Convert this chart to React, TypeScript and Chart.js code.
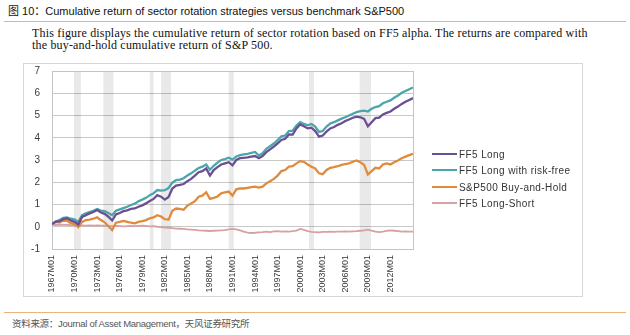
import React, { useEffect, useRef } from "react";
import { Chart, registerables } from "chart.js";

Chart.register(...registerables);

const periods = [
  "1967M01","1967M07","1968M01","1968M07","1969M01","1969M07","1970M01","1970M07",
  "1971M01","1971M07","1972M01","1972M07","1973M01","1973M07","1974M01","1974M07",
  "1975M01","1975M07","1976M01","1976M07","1977M01","1977M07","1978M01","1978M07",
  "1979M01","1979M07","1980M01","1980M07","1981M01","1981M07","1982M01","1982M07",
  "1983M01","1983M07","1984M01","1984M07","1985M01","1985M07","1986M01","1986M07",
  "1987M01","1987M07","1988M01","1988M07","1989M01","1989M07","1990M01","1990M07",
  "1991M01","1991M07","1992M01","1992M07","1993M01","1993M07","1994M01","1994M07",
  "1995M01","1995M07","1996M01","1996M07","1997M01","1997M07","1998M01","1998M07",
  "1999M01","1999M07","2000M01","2000M07","2001M01","2001M07","2002M01","2002M07",
  "2003M01","2003M07","2004M01","2004M07","2005M01","2005M07","2006M01","2006M07",
  "2007M01","2007M07","2008M01","2008M07","2009M01","2009M07","2010M01","2010M07",
  "2011M01","2011M07","2012M01","2012M07","2013M01","2013M07","2014M01","2014M07",
  "2015M01",
];

const ff5Long = [
  0.12,0.22,0.25,0.34,0.38,0.28,0.22,0.10,
  0.44,0.52,0.60,0.66,0.75,0.64,0.58,0.45,
  0.28,0.55,0.62,0.70,0.74,0.80,0.82,0.90,
  0.96,1.05,1.16,1.25,1.42,1.35,1.22,1.34,
  1.72,1.85,1.88,1.92,2.05,2.15,2.30,2.45,
  2.50,2.62,2.30,2.55,2.68,2.80,2.85,2.90,
  2.76,3.00,3.08,3.10,3.12,3.15,3.18,3.08,
  3.18,3.35,3.48,3.60,3.75,3.90,3.95,4.15,
  4.14,4.42,4.60,4.52,4.42,4.45,4.30,4.05,
  4.10,4.28,4.42,4.48,4.58,4.65,4.75,4.82,
  4.90,4.95,4.92,4.85,4.52,4.70,4.88,4.90,
  5.05,5.12,5.18,5.30,5.40,5.52,5.62,5.70,
  5.78,
];

const ff5LongRiskFree = [
  0.12,0.25,0.30,0.40,0.42,0.36,0.33,0.22,
  0.52,0.60,0.66,0.72,0.80,0.73,0.70,0.62,
  0.52,0.72,0.78,0.84,0.90,0.98,1.04,1.15,
  1.22,1.30,1.42,1.50,1.65,1.62,1.64,1.74,
  1.98,2.10,2.12,2.18,2.30,2.40,2.52,2.64,
  2.70,2.80,2.56,2.74,2.88,3.00,3.04,3.10,
  3.02,3.16,3.22,3.25,3.28,3.32,3.36,3.20,
  3.30,3.50,3.62,3.74,3.90,4.06,4.10,4.30,
  4.32,4.55,4.70,4.62,4.56,4.62,4.50,4.26,
  4.30,4.50,4.64,4.70,4.78,4.86,4.92,5.00,
  5.08,5.15,5.20,5.22,5.18,5.30,5.38,5.42,
  5.55,5.62,5.68,5.80,5.90,6.02,6.10,6.18,
  6.26,
];

const sp500BuyHold = [
  0.12,0.22,0.20,0.28,0.27,0.16,0.12,-0.02,
  0.22,0.30,0.32,0.36,0.42,0.30,0.20,0.02,
  -0.15,0.18,0.22,0.26,0.22,0.18,0.15,0.22,
  0.25,0.30,0.38,0.42,0.52,0.46,0.34,0.32,
  0.72,0.82,0.80,0.76,0.95,1.05,1.15,1.35,
  1.40,1.55,1.25,1.30,1.36,1.50,1.55,1.58,
  1.40,1.68,1.72,1.72,1.75,1.78,1.80,1.76,
  1.80,1.95,2.05,2.15,2.30,2.50,2.55,2.70,
  2.72,2.85,2.95,2.92,2.80,2.70,2.62,2.40,
  2.36,2.55,2.65,2.68,2.72,2.78,2.82,2.85,
  2.92,2.98,2.90,2.78,2.35,2.50,2.65,2.62,
  2.80,2.85,2.80,2.90,2.98,3.08,3.15,3.22,
  3.28,
];

const ff5LongShort = [
  0.10,0.08,0.10,0.08,0.09,0.07,0.06,0.04,
  0.06,0.05,0.06,0.05,0.06,0.05,0.05,0.04,
  0.03,0.04,0.03,0.02,0.03,0.04,0.03,0.04,
  0.05,0.04,0.02,0.03,0.00,-0.02,-0.04,-0.05,
  -0.06,-0.08,-0.09,-0.10,-0.12,-0.13,-0.14,-0.16,
  -0.17,-0.18,-0.19,-0.18,-0.17,-0.16,-0.15,-0.12,
  -0.10,-0.12,-0.16,-0.22,-0.26,-0.28,-0.27,-0.25,
  -0.24,-0.22,-0.24,-0.21,-0.20,-0.22,-0.21,-0.22,
  -0.20,-0.17,-0.10,-0.14,-0.20,-0.23,-0.24,-0.25,
  -0.23,-0.23,-0.22,-0.23,-0.22,-0.22,-0.21,-0.22,
  -0.21,-0.20,-0.18,-0.16,-0.13,-0.17,-0.22,-0.24,
  -0.22,-0.19,-0.16,-0.18,-0.20,-0.22,-0.21,-0.22,
  -0.22,
];

const recessionStarts = ["1969M12","1973M11","1980M01","1981M07","1990M07","2001M03","2007M12"];
const recessionEnds = ["1970M11","1975M03","1980M07","1982M11","1991M03","2001M11","2009M06"];

const tickYears = [1967,1970,1973,1976,1979,1982,1985,1988,1991,1994,1997,2000,2003,2006,2009,2012];
const yTicks = [-1,0,1,2,3,4,5,6,7];

const seriesNames = ["FF5 Long","FF5 Long with risk-free","S&P500 Buy-and-Hold","FF5 Long-Short"];
const seriesColors = ["#6a4f92","#4ba5aa","#e08a3c","#d7a0a3"];

const toYear = (p: string) => parseInt(p.slice(0, 4), 10) + (parseInt(p.slice(5), 10) - 1) / 12;

const bandsPlugin = {
  id: "bands",
  beforeDatasetsDraw(chart: any) {
    const { ctx, chartArea, scales } = chart;
    const x = scales.x;
    ctx.save();
    ctx.fillStyle = "rgba(0,0,0,0.085)";
    for (let i = 0; i < recessionStarts.length; i++) {
      const x0 = x.getPixelForValue(toYear(recessionStarts[i]));
      const x1 = x.getPixelForValue(toYear(recessionEnds[i]));
      ctx.fillRect(x0, chartArea.top, x1 - x0, chartArea.bottom - chartArea.top);
    }
    ctx.strokeStyle = "#c4c4c4";
    ctx.lineWidth = 1;
    ctx.strokeRect(
      Math.round(chartArea.left) + 0.5,
      Math.round(chartArea.top) + 0.5,
      Math.round(chartArea.right - chartArea.left),
      Math.round(chartArea.bottom - chartArea.top)
    );
    ctx.restore();
  },
};

function ChartBox() {
  const ref = useRef<HTMLCanvasElement | null>(null);
  useEffect(() => {
    if (!ref.current) return;
    const xs = periods.map(toYear);
    const seriesData = [ff5Long, ff5LongRiskFree, sp500BuyHold, ff5LongShort];
    const chart = new Chart(ref.current, {
      type: "line",
      data: {
        datasets: seriesData.map((arr, i) => ({
          label: seriesNames[i],
          data: arr.map((v, j) => ({ x: xs[j], y: v })),
          borderColor: seriesColors[i],
          backgroundColor: seriesColors[i],
          borderWidth: i === 3 ? 1.8 : 2.3,
          pointRadius: 0,
          tension: 0,
          fill: false,
        })),
      },
      options: {
        animation: false,
        responsive: false,
        maintainAspectRatio: false,
        layout: { padding: { top: 7, right: 169, left: 0, bottom: 0 } },
        plugins: { legend: { display: false }, tooltip: { enabled: false } },
        scales: {
          x: {
            type: "linear",
            min: 1967,
            max: 2015,
            afterBuildTicks: (axis: any) => {
              axis.ticks = tickYears.map((v) => ({ value: v }));
            },
            afterFit: (axis: any) => {
              axis.height = 47;
            },
            grid: { display: false, drawTicks: false },
            border: { display: false },
            ticks: {
              autoSkip: false,
              minRotation: 90,
              maxRotation: 90,
              padding: 6,
              color: "#3a3a3a",
              font: { family: "Liberation Sans", size: 9 },
              callback: (v: any) => `${v}M01`,
            },
          },
          y: {
            min: -1,
            max: 7,
            afterBuildTicks: (axis: any) => {
              axis.ticks = yTicks.map((v) => ({ value: v }));
            },
            afterFit: (axis: any) => {
              axis.width = 28;
              axis.paddingTop = 6;
              axis.paddingBottom = 6;
            },
            grid: { color: "#c8c8c8", lineWidth: 1, drawTicks: false },
            border: { display: false },
            ticks: {
              padding: 12,
              color: "#3a3a3a",
              font: { family: "Liberation Sans", size: 10 },
            },
          },
        },
      },
      plugins: [bandsPlugin],
    });
    return () => chart.destroy();
  }, []);
  return <canvas ref={ref} width={558} height={232} style={{ width: 558, height: 232, display: "block" }} />;
}

export default function App() {
  const orange = "#eab37c";
  return (
    <div style={{ position: "absolute", left: 0, top: 0, width: 630, height: 335, background: "#fff", overflow: "hidden" }}>
      <div style={{ position: "absolute", left: 8, top: 3, fontFamily: "'Liberation Sans', 'Noto Sans CJK SC', sans-serif", fontSize: 11, color: "#111", whiteSpace: "nowrap", lineHeight: "16px" }}>
        图 10：Cumulative return of sector rotation strategies versus benchmark S&amp;P500
      </div>
      <div style={{ position: "absolute", left: 4, top: 21, width: 622, height: 1, background: orange }} />
      <div style={{ position: "absolute", left: 32, top: 28, fontFamily: "'Liberation Serif', serif", fontSize: 12, letterSpacing: 0.18, color: "#111", lineHeight: "11.5px", whiteSpace: "nowrap" }}>
        <div>This figure displays the cumulative return of sector rotation based on FF5 alpha. The returns are compared with</div>
        <div>the buy-and-hold cumulative return of S&amp;P 500.</div>
      </div>
      <div style={{ position: "absolute", left: 23, top: 63, width: 560, height: 234, border: "1px solid #d6d6d6", boxSizing: "border-box" }}>
        <ChartBox />
      </div>
      {seriesNames.map((n, i) => (
        <div key={n} style={{ position: "absolute", left: 432, top: [154, 170, 187, 203][i] - 7, height: 14, display: "flex", alignItems: "center", whiteSpace: "nowrap" }}>
          <div style={{ width: 25, height: 2.5, background: seriesColors[i] }} />
          <div style={{ marginLeft: 2, fontFamily: "'Liberation Sans', sans-serif", fontSize: 10, letterSpacing: 0.4, color: "#333" }}>{n}</div>
        </div>
      ))}
      <div style={{ position: "absolute", left: 4, top: 312, width: 622, height: 1, background: orange }} />
      <div style={{ position: "absolute", left: 12, top: 317, fontFamily: "'Liberation Sans', 'Noto Sans CJK SC', sans-serif", fontSize: 9.5, letterSpacing: -0.3, color: "#555", whiteSpace: "nowrap", lineHeight: "14px" }}>
        资料来源：Journal of Asset Management，天风证券研究所
      </div>
    </div>
  );
}
